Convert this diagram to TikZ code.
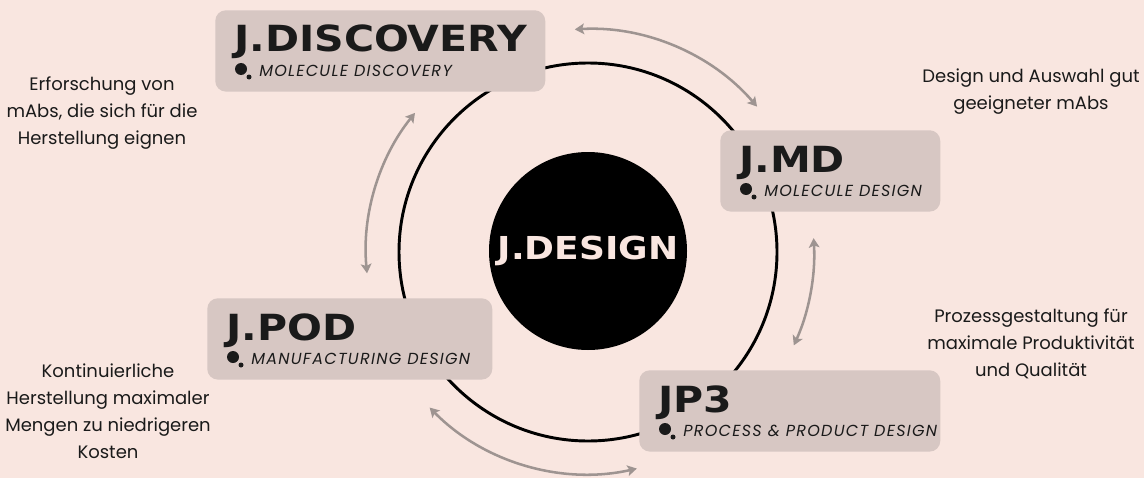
\documentclass[tikz,border=0pt]{standalone}
\usepackage{fontspec}
\setmainfont{Poppins}
\newfontfamily\headfont[FakeStretch=1.14]{DejaVu Sans Bold}
\newfontfamily\tagfont[LetterSpace=8]{Poppins}
\usetikzlibrary{positioning, calc, arrows.meta}

\definecolor{bgpink}{RGB}{249,230,224}
\definecolor{boxgrey}{RGB}{215,199,195}
\definecolor{arrowgrey}{RGB}{158,148,145}
\definecolor{inktext}{RGB}{26,26,26}

\begin{document}
\begin{tikzpicture}[x=0.75pt, y=-0.75pt,
  box/.style={fill=boxgrey, rounded corners=8pt, inner sep=0pt, anchor=north west, minimum height=61pt},
  headline/.style={font=\headfont\fontsize{27}{27}\selectfont, text=inktext, anchor=base west, inner sep=0pt},
  tagline/.style={font=\tagfont\itshape\fontsize{12}{12}\selectfont, text=inktext, anchor=base west, inner sep=0pt},
  note/.style={font=\fontsize{13.5}{20.25}\selectfont, align=center, text=inktext},
  link/.style={arrowgrey, line width=1.9pt, {Stealth[length=7pt,width=8pt,inset=1.5pt]}-{Stealth[length=7pt,width=8pt,inset=1.5pt]}}]

  \fill[bgpink] (0,0) rectangle (1144,478);
  \useasboundingbox (0,0) rectangle (1144,478);

  \coordinate (c) at (588,252);

  % ring behind the boxes
  \draw[line width=2.2pt] (c) circle[radius=189];

  % grey arcs
  \coordinate (a1) at ($(c)+(-93.4:223)$);
  \coordinate (a2) at ($(c)+(-141.2:222)$);
  \coordinate (a3) at ($(c)+(-3.5:226)$);
  \coordinate (a4) at ($(c)+(135.5:222)$);
  \draw[link] (a1) arc[start angle=-93.4, end angle=-40.7, radius=223];
  \draw[link] (a2) arc[start angle=-141.2, end angle=-185.5, radius=222];
  \draw[link] (a3) arc[start angle=-3.5, end angle=24.4, radius=226];
  \draw[link] (a4) arc[start angle=135.5, end angle=77.3, radius=222];

  % centre
  \node[circle, fill=black, minimum size=148.5pt, inner sep=0pt,
        font=\headfont\fontsize{23.7}{23.7}\selectfont, text=bgpink] (core) at (588,251) {J.DESIGN};

  % the four modules
  \foreach \id/\px/\py/\w/\head/\sub in {
      disc/215/10/330/J.DISCOVERY/MOLECULE DISCOVERY,
      md/720/130/220/J.MD/MOLECULE DESIGN,
      pod/207/298/285/J.POD/MANUFACTURING DESIGN,
      pthree/639/370/301/JP3/PROCESS \& PRODUCT DESIGN} {
    \node[box, minimum width=\w*0.75pt] (\id) at (\px,\py) {};
    \node[headline] (\id-head) at ($(\id.north west)+(19,42)$) {\head};
    \node[tagline] (\id-tag) at ($(\id.north west)+(44,66)$) {\sub};
    \fill[inktext] ($(\id.north west)+(26,59)$) circle[radius=6];
    \fill[inktext] ($(\id.north west)+(34,67)$) circle[radius=2.5];
  }

  % descriptions
  \node[note] (disc-note) at (102,113) {Erforschung von\\mAbs, die sich für die\\Herstellung eignen};
  \node[note] (md-note) at (1031,91.5) {Design und Auswahl gut\\geeigneter mAbs};
  \node[note] (pthree-note) at (1031,344) {Prozessgestaltung für\\maximale Produktivität\\und Qualität};
  \node[note] (pod-note) at (108,411.5) {Kontinuierliche\\Herstellung maximaler\\Mengen zu niedrigeren\\Kosten};
\end{tikzpicture}
\end{document}
